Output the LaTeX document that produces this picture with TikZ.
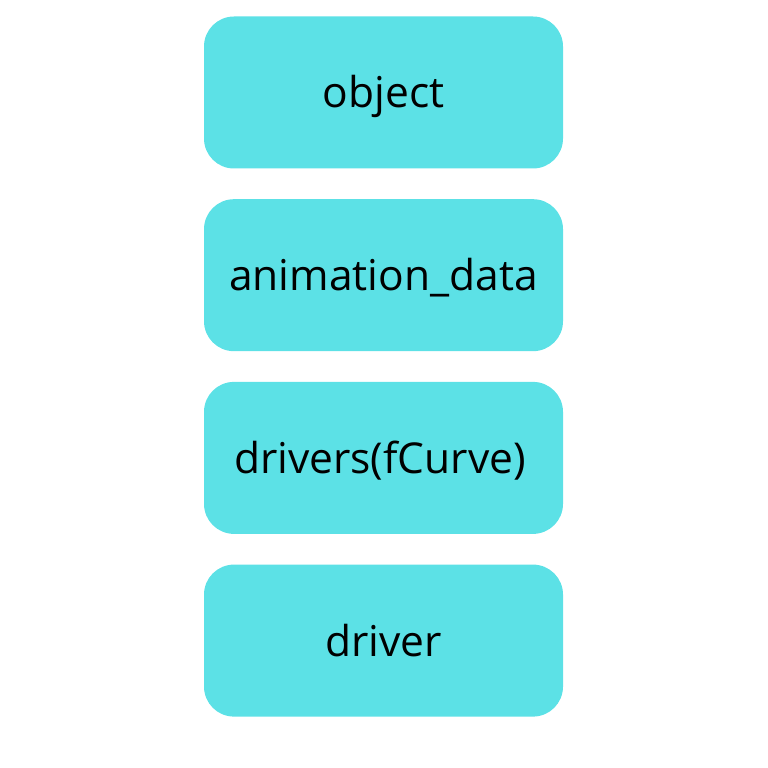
\documentclass[tikz,border=0pt]{standalone}
\usepackage{fontspec}
\setmainfont{Open Sans}
\usepackage{tikz}
\usetikzlibrary{shapes.geometric}
\definecolor{boxCyan}{HTML}{5CE1E6}
\tikzstyle{boxNode} = [rectangle, rounded corners=30pt, minimum width=359pt, minimum height=152pt, text centered, text height=31pt, text depth=0pt, fill=boxCyan, font=\fontsize{42.5}{50}\selectfont]

\begin{document}
\begin{tikzpicture}[node distance=182.7pt]
        \useasboundingbox (0,0) rectangle (768pt,768pt);
        \node (object) [boxNode] at (383.5pt,675.5pt) {object};
        \node (animdata) [boxNode, below of=object] {animation\_data};
        \node (drivers) [boxNode, below of=animdata] {drivers(fCurve)\,};
        \node (driver) [boxNode, below of=drivers] {driver};
    \end{tikzpicture}
\end{document}
